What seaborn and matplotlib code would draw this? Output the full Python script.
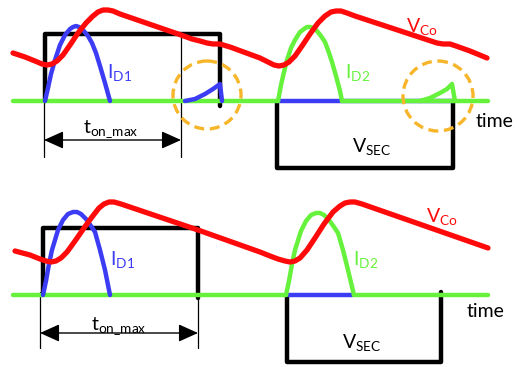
import matplotlib
matplotlib.use("Agg")
import matplotlib.pyplot as plt
from matplotlib.patches import Ellipse
import seaborn as sns

sns.set_theme(style="white")
plt.rcParams["font.family"] = ["Lato", "DejaVu Sans"]
plt.rcParams["mathtext.fontset"] = "custom"
plt.rcParams["mathtext.rm"] = "Lato"
plt.rcParams["mathtext.it"] = "Lato"

RED = "#FF0A0A"
BLUE = "#3C3CF5"
GREEN = "#66F23C"
BLACK = "#000000"
ORANGE = "#F7B52A"

# ---------------- upper panel: waveforms (time, level) ----------------
top_base_y = 101
top_green_a_t = [13, 278]
top_green_b_t = [342, 488]

top_vco_t = [13, 25, 35, 42, 47, 52, 57, 63, 70, 78, 86, 93, 98, 103, 108, 113,
             120, 181, 192, 200, 207, 213, 220, 230, 260, 268, 274, 279, 284,
             289, 295, 302, 310, 318, 325, 331, 336, 341, 347, 355, 437, 443,
             450, 456, 470, 487]
top_vco_v = [53, 57, 61, 64, 65, 64, 61, 55, 45, 33, 23, 16, 12, 10, 10, 11,
             14, 35, 39, 41, 43, 44, 44, 47, 58, 62, 65, 66, 65,
             62, 56, 46, 34, 23, 16, 12, 11, 11, 13, 16, 43, 44,
             44, 46, 51, 58]

top_id1_t = [45, 48, 51, 55, 60, 65, 70, 73, 76, 79, 83, 88, 92, 96, 100, 105, 110]
top_id1_v = [101, 88, 74, 60, 45, 35, 29, 27, 26, 27, 30, 36, 43, 53, 66, 83, 101]
top_id1_tail_t = [185, 195, 205, 213, 220, 222]
top_id1_tail_v = [101, 99, 94, 89, 84, 101]
top_id1_flat_t = [278, 453]

top_id2_t = [278, 281, 284, 287, 291, 295, 300, 304, 307, 310, 313, 317, 321,
             325, 328, 332, 336, 340, 342]
top_id2_v = [101, 85, 72, 60, 48, 40, 32, 29, 27, 27, 28, 31, 36,
             42, 50, 62, 76, 91, 101]
top_id2_tail_t = [420, 430, 440, 447, 452, 455]
top_id2_tail_v = [101, 98, 93, 89, 84, 101]

top_vpri_t = [45, 45, 220, 220]
top_vpri_v = [101, 34, 34, 106]
top_vsec_t = [277, 277, 453, 453]
top_vsec_v = [101, 168, 168, 101]

top_marks_t = [44, 181]
top_marks_from = [34, 34]
top_marks_to = 157
top_arrow_y = 140

# ---------------- lower panel ----------------
bot_base_y = 295
bot_green_a_t = [13, 286]
bot_green_b_t = [354, 488]

bot_vco_t = [15, 30, 40, 46, 51, 56, 61, 67, 75, 84, 92, 99, 104, 109, 114,
             121, 198, 260, 270, 278, 285, 290, 295, 300, 307, 315, 324,
             333, 340, 345, 350, 355, 362, 488]
bot_vco_v = [251, 255, 259, 261, 262, 261, 258, 252, 241, 228, 217, 208, 204, 202,
             202, 204, 230, 252, 256, 259, 261, 262, 261, 258, 250, 238, 224,
             212, 206, 203, 202, 202, 204, 248]

bot_id1_t = [43, 46, 49, 52, 58, 63, 68, 73, 77, 81, 86, 91, 95, 100, 105, 110]
bot_id1_v = [295, 281, 264, 250, 230, 220, 214, 212, 212, 214, 219, 226, 232,
             250, 270, 295]
bot_id1_flat_t = [288, 352]

bot_id2_t = [286, 289, 292, 295, 301, 306, 311, 316, 320, 324, 329, 334, 338,
             343, 348, 354]
bot_id2_v = [295, 281, 264, 250, 231, 221, 215, 213, 213, 215, 220, 227, 233,
             250, 270, 295]

bot_vpri_t = [43, 43, 198, 198]
bot_vpri_v = [295, 228, 228, 298]
bot_vsec_t = [287, 287, 441, 441]
bot_vsec_v = [295, 362, 362, 292]

bot_marks_t = [40, 198]
bot_marks_from = [292, 228]
bot_marks_to = 348
bot_arrow_y = 333

# dashed markers around the ringing tails: (centre t, centre level, radius)
circles = [(207, 95, 34), (438, 96, 35)]

fig = plt.figure(figsize=(5.22, 3.67), dpi=100)
ax = fig.add_axes([0, 0, 1, 1])
ax.set_xlim(0, 522)
ax.set_ylim(367, 0)
ax.axis("off")


def trace(t, v, color, lw, z):
    sns.lineplot(x=t, y=v, sort=False, estimator=None, color=color, lw=lw,
                 ax=ax, zorder=z, solid_capstyle="round",
                 solid_joinstyle="round")


# primary / secondary winding voltage
trace(top_vpri_t, top_vpri_v, BLACK, 3.2, 2)
trace(top_vsec_t, top_vsec_v, BLACK, 3.2, 2)
trace(bot_vpri_t, bot_vpri_v, BLACK, 3.2, 2)
trace(bot_vsec_t, bot_vsec_v, BLACK, 3.2, 2)

# thin timing markers
for t, y0 in zip(top_marks_t, top_marks_from):
    trace([t, t], [y0, top_marks_to], BLACK, 0.9, 1)
for t, y0 in zip(bot_marks_t, bot_marks_from):
    trace([t, t], [y0, bot_marks_to], BLACK, 0.9, 1)

# diode currents
trace(top_id1_flat_t, [top_base_y] * 2, BLUE, 3.2, 3)
trace(bot_id1_flat_t, [bot_base_y] * 2, BLUE, 3.2, 3)
trace(top_green_a_t, [top_base_y] * 2, GREEN, 3.2, 4)
trace(top_green_b_t, [top_base_y] * 2, GREEN, 3.2, 4)
trace(bot_green_a_t, [bot_base_y] * 2, GREEN, 3.2, 4)
trace(bot_green_b_t, [bot_base_y] * 2, GREEN, 3.2, 4)
trace(top_id1_t, top_id1_v, BLUE, 3.2, 5)
trace(top_id1_tail_t, top_id1_tail_v, BLUE, 3.2, 5)
trace(bot_id1_t, bot_id1_v, BLUE, 3.2, 5)
trace(top_id2_t, top_id2_v, GREEN, 3.2, 5)
trace(top_id2_tail_t, top_id2_tail_v, GREEN, 3.2, 5)
trace(bot_id2_t, bot_id2_v, GREEN, 3.2, 5)

# output capacitor voltage
trace(top_vco_t, top_vco_v, RED, 3.8, 6)
trace(bot_vco_t, bot_vco_v, RED, 3.8, 6)

# on-time arrows
for (a, b), y in [((top_marks_t[0], top_marks_t[1]), top_arrow_y),
                  ((bot_marks_t[0], bot_marks_t[1]), bot_arrow_y)]:
    ax.annotate("", xy=(a, y), xytext=(b, y),
                arrowprops=dict(arrowstyle="<|-|>,head_length=1.0,head_width=0.45",
                                color=BLACK, lw=1.0, shrinkA=0, shrinkB=0),
                zorder=7)

for cx, cy, r in circles:
    ax.add_patch(Ellipse((cx, cy), 2 * r, 2 * r, fill=False, ec=ORANGE,
                         lw=2.4, ls=(0, (3.0, 1.7)), zorder=8))

fs = 14
labels = [
    (83, 133, r"$\mathregular{t_{on\_max}}$", BLACK),
    (107, 78, r"$\mathregular{I_{D1}}$", BLUE),
    (345, 78, r"$\mathregular{I_{D2}}$", GREEN),
    (406, 32, r"$\mathregular{V_{Co}}$", RED),
    (352, 152, r"$\mathregular{V_{SEC}}$", BLACK),
    (91, 330, r"$\mathregular{t_{on\_max}}$", BLACK),
    (110, 265, r"$\mathregular{I_{D1}}$", BLUE),
    (353, 265, r"$\mathregular{I_{D2}}$", GREEN),
    (426, 222, r"$\mathregular{V_{Co}}$", RED),
    (342, 348, r"$\mathregular{V_{SEC}}$", BLACK),
    (476, 127, "time", BLACK),
    (467, 317, "time", BLACK),
]
for x, y, s, c in labels:
    ax.text(x, y, s, color=c, fontsize=fs, ha="left", va="baseline", zorder=9)

fig.savefig("out.png", dpi=100)
